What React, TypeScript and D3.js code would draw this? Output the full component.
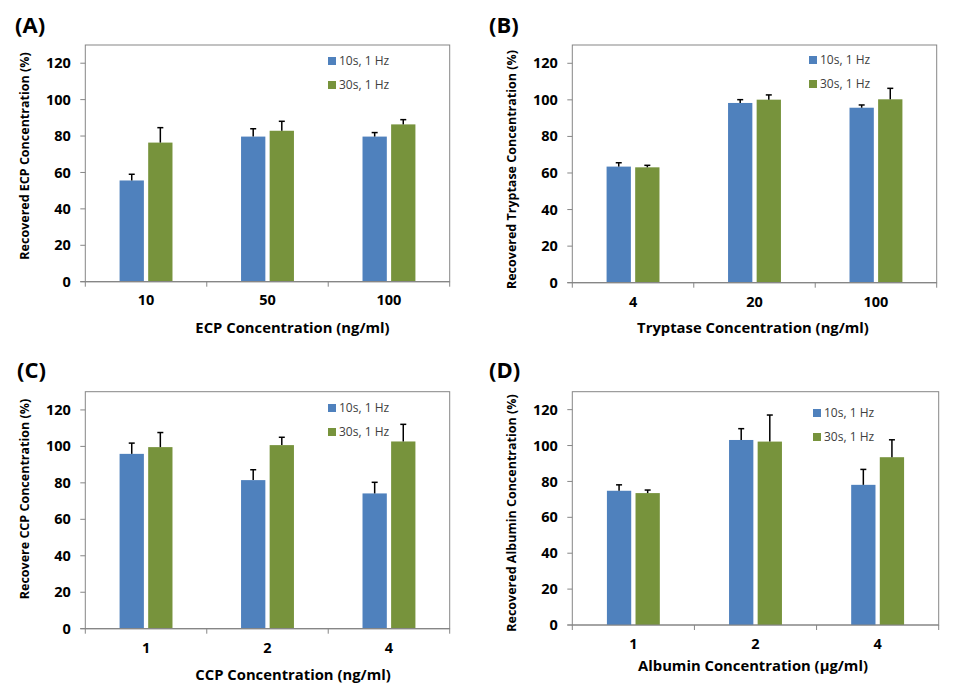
import React from "react";
import * as d3 from "d3";

const seriesNames = ["10s, 1 Hz", "30s, 1 Hz"];
const colors = ["#4F81BD", "#77933C"];
const yTicks = [0, 20, 40, 60, 80, 100, 120];

const catsA = ["10", "50", "100"];
const meanA10 = [55.6, 79.7, 79.7];
const errA10 = [3.4, 4.3, 2.2];
const meanA30 = [76.4, 82.9, 86.4];
const errA30 = [8.2, 5.2, 2.6];

const catsB = ["4", "20", "100"];
const meanB10 = [63.5, 98.3, 95.7];
const errB10 = [2.1, 1.8, 1.5];
const meanB30 = [63.1, 100.1, 100.3];
const errB30 = [1.1, 2.6, 6.0];

const catsC = ["1", "2", "4"];
const meanC10 = [95.9, 81.5, 74.2];
const errC10 = [5.9, 5.7, 6.1];
const meanC30 = [99.6, 100.7, 102.7];
const errC30 = [8.0, 4.3, 9.4];

const catsD = ["1", "2", "4"];
const meanD10 = [74.8, 103.1, 78.1];
const errD10 = [3.3, 6.3, 8.6];
const meanD30 = [73.5, 102.2, 93.5];
const errD30 = [1.7, 14.8, 9.7];

type PanelProps = {
  letter: string;
  cats: string[];
  means: number[][];
  errs: number[][];
  yTitle: string;
  xTitle: string;
  box: { left: number; right: number; top: number; bottom: number };
  yTitleX: number;
  yTitleY: number;
  xTickY: number;
  xTitleX: number;
  xTitleY: number;
  legendX: number;
  legendY: number;
  letterX: number;
  letterY: number;
};

const FONT = "'Open Sans', 'Noto Sans', sans-serif";

function Panel(p: PanelProps) {
  const { box } = p;
  const y = d3.scaleLinear().domain([0, 130]).range([box.bottom, box.top]);
  const x = d3.scaleBand().domain(p.cats).range([box.left, box.right]).paddingInner(0).paddingOuter(0);
  const barW = 24.3;
  const gap = 4.3;
  const offsets = [-gap / 2 - barW, gap / 2];
  const boundaries = [...p.cats.map((c) => x(c)!), box.right];
  return (
    <g>
      <text x={p.letterX} y={p.letterY} fontFamily={FONT} fontWeight="bold" fontSize={22} fill="#000">
        {p.letter}
      </text>
      <rect x={box.left} y={box.top} width={box.right - box.left} height={box.bottom - box.top} fill="white" stroke="#868686" strokeWidth={1} />
      {yTicks.map((t) => (
        <g key={t}>
          <line x1={box.left - 5} x2={box.left} y1={y(t)} y2={y(t)} stroke="#868686" />
          <text x={box.left - 14.5} y={y(t)} dy="0.35em" textAnchor="end" fontFamily={FONT} fontWeight="bold" fontSize={14.5} fill="#000">
            {t}
          </text>
        </g>
      ))}
      {p.means.map((series, si) =>
        series.map((v, i) => {
          const bx = x(p.cats[i])! + x.bandwidth() / 2 + offsets[si];
          const top = y(v);
          const et = y(v + p.errs[si][i]);
          const cx = bx + barW / 2;
          return (
            <g key={`${si}-${i}`}>
              <rect x={bx} y={top} width={barW} height={y(0) - top} fill={colors[si]} />
              <line x1={cx} x2={cx} y1={top} y2={et} stroke="#000" strokeWidth={1.5} />
              <line x1={cx - 3} x2={cx + 3} y1={et} y2={et} stroke="#000" strokeWidth={1.5} />
            </g>
          );
        })
      )}
      <line x1={box.left - 5} x2={box.right} y1={y(0)} y2={y(0)} stroke="#868686" strokeWidth={1.2} />
      {boundaries.map((b, i) => (
        <line key={i} x1={b} x2={b} y1={y(0)} y2={y(0) + 5} stroke="#868686" />
      ))}
      {p.cats.map((c) => (
        <text key={c} x={x(c)! + x.bandwidth() / 2} y={p.xTickY} dy="0.35em" textAnchor="middle" fontFamily={FONT} fontWeight="bold" fontSize={14.5} fill="#000">
          {c}
        </text>
      ))}
      <text x={p.xTitleX} y={p.xTitleY} dy="0.35em" textAnchor="middle" fontFamily={FONT} fontWeight="bold" fontSize={14.8} fill="#000">
        {p.xTitle}
      </text>
      <text
        transform={`translate(${p.yTitleX},${p.yTitleY}) rotate(-90)`}
        dy="0.35em"
        textAnchor="middle"
        fontFamily={FONT}
        fontWeight="bold"
        fontSize={12.5}
        fill="#000"
      >
        {p.yTitle}
      </text>
      {seriesNames.map((s, i) => (
        <g key={s} transform={`translate(${p.legendX},${p.legendY + i * 24})`}>
          <rect x={0} y={-4} width={8} height={8} fill={colors[i]} />
          <text x={11} y={0} dy="0.35em" fontFamily={FONT} fontSize={12} fill="#404040">
            {s}
          </text>
        </g>
      ))}
    </g>
  );
}

export default function App() {
  return (
    <svg width={957} height={695} style={{ position: "absolute", left: 0, top: 0, background: "white" }}>
      <Panel
        letter="(A)"
        cats={catsA}
        means={[meanA10, meanA30]}
        errs={[errA10, errA30]}
        yTitle="Recovered ECP Concentration (%)"
        xTitle="ECP Concentration (ng/ml)"
        box={{ left: 85.3, right: 449.7, top: 45, bottom: 281.7 }}
        yTitleX={25}
        yTitleY={156}
        xTickY={300}
        xTitleX={292.5}
        xTitleY={328}
        legendX={328}
        legendY={61}
        letterX={15}
        letterY={33}
      />
      <Panel
        letter="(B)"
        cats={catsB}
        means={[meanB10, meanB30]}
        errs={[errB10, errB30]}
        yTitle="Recovered Tryptase Concentration (%)"
        xTitle="Tryptase Concentration (ng/ml)"
        box={{ left: 572.3, right: 936.7, top: 45, bottom: 282.7 }}
        yTitleX={512}
        yTitleY={169.5}
        xTickY={301.5}
        xTitleX={753}
        xTitleY={327.5}
        legendX={809}
        legendY={60}
        letterX={489}
        letterY={33}
      />
      <Panel
        letter="(C)"
        cats={catsC}
        means={[meanC10, meanC30]}
        errs={[errC10, errC30]}
        yTitle="Recovere CCP Concentration (%)"
        xTitle="CCP Concentration (ng/ml)"
        box={{ left: 85.3, right: 449.7, top: 391.7, bottom: 628.7 }}
        yTitleX={25}
        yTitleY={499}
        xTickY={648}
        xTitleX={293}
        xTitleY={675}
        legendX={328}
        legendY={408}
        letterX={17}
        letterY={378}
      />
      <Panel
        letter="(D)"
        cats={catsD}
        means={[meanD10, meanD30]}
        errs={[errD10, errD30]}
        yTitle="Recovered Albumin Concentration (%)"
        xTitle="Albumin Concentration (µg/ml)"
        box={{ left: 572.3, right: 938.7, top: 391.7, bottom: 625 }}
        yTitleX={512}
        yTitleY={513}
        xTickY={644}
        xTitleX={753}
        xTitleY={665.5}
        legendX={813}
        legendY={413}
        letterX={489}
        letterY={378}
      />
    </svg>
  );
}
